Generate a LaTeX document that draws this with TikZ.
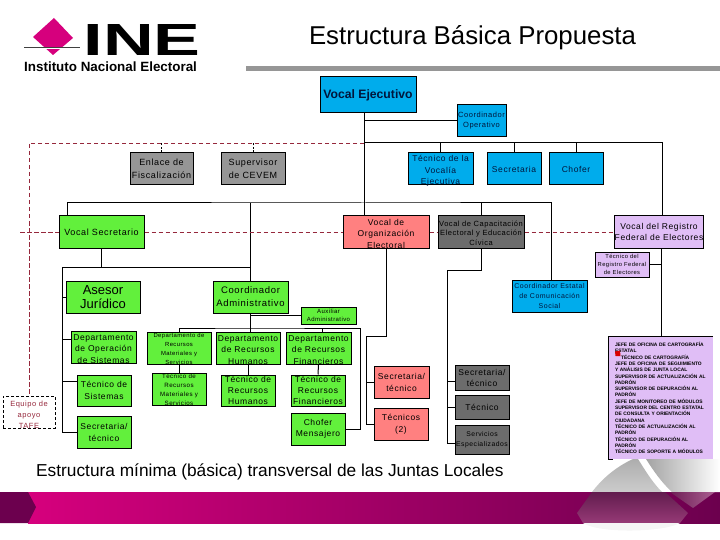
\documentclass[tikz,border=0pt]{standalone}
\usepackage{fontspec}
\usepackage{tikz}
\usetikzlibrary{positioning,arrows.meta}
\setmainfont{Liberation Sans}
\newfontfamily\boxf[LetterSpace=7]{Liberation Sans}
\definecolor{ineBlue}{RGB}{0,172,236}
\definecolor{ineInk}{RGB}{0,22,60}
\definecolor{ineGrey}{RGB}{150,150,150}
\definecolor{ineDark}{RGB}{108,108,108}
\definecolor{ineGreen}{RGB}{98,240,60}
\definecolor{ineRed}{RGB}{255,128,128}
\definecolor{inePurple}{RGB}{224,190,246}
\definecolor{ineDash}{RGB}{150,40,60}
\definecolor{ineMag}{RGB}{214,0,125}
\definecolor{bandDark}{RGB}{108,0,78}
\newcommand{\fs}[2]{\boxf\fontsize{#1}{#2}\selectfont}

\begin{document}
\begin{tikzpicture}[x=1pt,y=-1pt,
  sz/.style 2 args={minimum width=#1pt,minimum height=#2pt},
  bxBlue/.style={draw=black,fill=ineBlue,text=ineInk,line width=1pt,align=center,inner sep=0pt,font=\fs{8.5}{11}},
  bxGrey/.style={draw=black,fill=ineGrey,line width=1pt,align=center,inner sep=0pt,font=\fs{9}{12.5}},
  bxDark/.style={draw=black,fill=ineDark,line width=1pt,align=center,inner sep=0pt,font=\fs{8.5}{11}},
  bxGreen/.style={draw=black,fill=ineGreen,line width=1pt,align=center,inner sep=0pt,font=\fs{9}{12.5}},
  bxRed/.style={draw=black,fill=ineRed,line width=1pt,align=center,inner sep=0pt,font=\fs{8.5}{12}},
  bxPurple/.style={draw=black,fill=inePurple,line width=1pt,align=center,inner sep=0pt,font=\fs{8.5}{11}},
  full/.style={text height=32pt,text depth=0pt,font=\fs{8.5}{11.5}},
  ln/.style={draw=black,line width=1pt},
  lnT/.style={draw=black,line width=1.8pt},
  dsh/.style={draw=ineDash,line width=0.9pt,dash pattern=on 4.5pt off 2.5pt}]
\useasboundingbox (0,0) rectangle (720,540);

% band and swoosh
\shade[left color=ineMag,middle color=ineMag!80!black,right color=bandDark] (28,492) rectangle (720,523);
\fill[bandDark] (0,492) -- (28,492) -- (36,507) -- (28,523) -- (0,523) -- cycle;
\shade[top color=black!32,bottom color=black!20] (592,492) .. controls (605,475) and (620,465) .. (633,459) -- (638,459) .. controls (645,470) and (652,482) .. (662,492) -- cycle;
\shade[left color=black!36,right color=white] (646,459) .. controls (653,470) and (661,482) .. (672,492) -- (720,492) -- (720,459) -- cycle;
\shade[top color={rgb,255:red,98;green,28;blue,78},bottom color={rgb,255:red,150;green,58;blue,118}] (592,492) -- (577,513) -- (583,523) -- (680,523) -- (688,513) -- (665,492) -- cycle;
\shade[left color={rgb,255:red,110;green,30;blue,85},right color={rgb,255:red,170;green,95;blue,145}] (670,492) -- (693,508) -- (715,492) -- cycle;
\fill[black!4] (583,523) -- (680,523) .. controls (665,532) and (600,534) .. cycle;

% logo
\fill[ineMag] (54,18) -- (73,38) -- (53,55) -- (33,37) -- cycle;
\draw[white,line width=2pt] (24,48) -- (80,48);
\draw[black!75,line width=1pt] (24,48) -- (80,48);
\node[anchor=west,inner sep=0pt] (logoIne) at (83.5,40.5) {\resizebox{117pt}{31pt}{\textbf{INE}}};
\node[anchor=west,inner sep=0pt,font=\bfseries\fontsize{13.4}{15}\selectfont] (logoTxt) at (24,67) {Instituto Nacional Electoral};

\node[font=\fontsize{25.8}{30}\selectfont,inner sep=0pt] (title) at (472.5,38) {Estructura Básica Propuesta};
\fill[ineGrey] (246,66) rectangle (720,71);
\node[anchor=west,inner sep=0pt,font=\fontsize{17.3}{20}\selectfont] (foot) at (36,472) {Estructura mínima (básica) transversal de las Juntas Locales};

\node[bxBlue,sz={96}{36},font=\bfseries\fontsize{12.2}{14}\selectfont] (ejec) at (368,95) {Vocal Ejecutivo};
\node[bxBlue,sz={49}{32},font=\fs{7.5}{10}] (coOp) at (481.5,121) {Coordinador\\Operativo};
\node[bxBlue,sz={65}{32},full] (tecVE) at (440.5,169) {Técnico de la\\Vocalía\\Ejecutiva};
\node[bxBlue,sz={54}{32}] (secV) at (514,169) {Secretaria};
\node[bxBlue,sz={54}{32}] (chof) at (576,169) {Chofer};
\node[bxGrey,sz={63}{32}] (enl) at (161.5,169) {Enlace de\\Fiscalización};
\node[bxGrey,sz={64}{32}] (sup) at (253,169) {Supervisor\\de CEVEM};

\node[bxGreen,sz={85}{32}] (vsec) at (101.5,232) {Vocal Secretario};
\node[bxRed,sz={86}{32},full] (org) at (386,232) {Vocal de\\Organización\\Electoral};
\node[bxDark,sz={86}{32},full,font=\fs{7.5}{9.5},text height=29pt,text depth=3pt] (vcap) at (481,232) {Vocal de Capacitación\\Electoral y Educación\\Cívica};
\node[bxPurple,sz={86}{32}] (reg) at (659,232) {Vocal del Registro\\Federal de Electores};
\node[bxPurple,sz={54}{25},font=\fs{5.8}{8}] (tecR) at (622,264.5) {Técnico del\\Registro Federal\\de Electores};
\node[bxBlue,sz={75}{32},font=\fs{7}{10}] (cest) at (549.5,296) {Coordinador Estatal\\de Comunicación\\Social};

\node[bxGreen,sz={74}{32},font=\fontsize{13}{14.5}\selectfont] (ase) at (103,297) {Asesor\\Jurídico};
\node[bxGreen,sz={75}{32},font=\fs{9.5}{13}] (coAd) at (250.5,297) {Coordinador\\Administrativo};
\node[bxGreen,sz={55}{17},font=\fs{6}{8}] (aux) at (328.5,315.5) {Auxiliar\\Administrativo};

\node[bxGreen,sz={65}{32},full] (depO) at (103.5,347) {Departamento\\de Operación\\de Sistemas};
\node[bxGreen,sz={64}{32},full,font=\fs{5.9}{8.8}] (depM) at (179,348) {Departamento de\\Recursos\\Materiales y\\Servicios};
\node[bxGreen,sz={64}{32},full] (depH) at (248,348) {Departamento\\de Recursos\\Humanos};
\node[bxGreen,sz={65}{32},full] (depF) at (318.5,348) {Departamento\\de Recursos\\Financieros};

\node[bxGreen,sz={54}{31},font=\fs{8.5}{12.5}] (tecS) at (104,390.5) {Técnico de\\Sistemas};
\node[bxGreen,sz={54}{32},full,font=\fs{6.2}{8.8}] (tecM) at (179,389) {Técnico de\\Recursos\\Materiales y\\Servicios};
\node[bxGreen,sz={54}{31},font=\fs{8.5}{11}] (tecH) at (248,390.5) {Técnico de\\Recursos\\Humanos};
\node[bxGreen,sz={54}{31},font=\fs{8.5}{11}] (tecF) at (318,390.5) {Técnico de\\Recursos\\Financieros};
\node[bxGreen,sz={54}{32},font=\fs{8.5}{11.5}] (chM) at (318,429) {Chofer\\Mensajero};
\node[bxGreen,sz={54}{32},font=\fs{8.5}{12}] (secT) at (104,432) {Secretaria/\\técnico};

\node[draw=black,line width=1pt,dash pattern=on 3pt off 2pt,fill=white,align=center,inner sep=0pt,sz={52}{32},text=ineDash,font=\fs{7.5}{11},text height=32pt,text depth=0pt] (equipo) at (29,412) {Equipo de\\apoyo\\TAFE};

\node[bxRed,sz={55}{32}] (secO) at (401.5,382) {Secretaria/\\técnico};
\node[bxRed,sz={54}{32}] (tecs) at (401,424) {Técnicos\\(2)};
\node[bxDark,sz={54}{25}] (secG) at (482,377.5) {Secretaria/\\técnico};
\node[bxDark,sz={54}{24}] (tecG) at (482,407) {Técnico};
\node[bxDark,sz={54}{29},font=\fs{6.8}{10}] (serv) at (482,439.5) {Servicios\\Especializados};

\node[fill=inePurple,sz={104}{122},text width=92pt,align=left,inner sep=0pt,font=\bfseries\fontsize{4.9}{6.3}\selectfont] (list) at (661,398)
  {JEFE DE OFICINA DE CARTOGRAFÍA\\ ESTATAL\\ \hspace*{6pt}TÉCNICO DE CARTOGRAFÍA\\
   JEFE DE OFICINA DE SEGUIMIENTO\\ Y ANÁLISIS DE JUNTA LOCAL\\
   SUPERVISOR DE ACTUALIZACIÓN AL\\ PADRÓN\\ SUPERVISOR DE DEPURACIÓN AL\\ PADRÓN\\
   JEFE DE MONITOREO DE MÓDULOS\\ SUPERVISOR DEL CENTRO ESTATAL\\ DE CONSULTA Y ORIENTACIÓN\\ CIUDADANA\\
   TÉCNICO DE ACTUALIZACIÓN AL\\ PADRÓN\\ TÉCNICO DE DEPURACIÓN AL\\ PADRÓN\\ TÉCNICO DE SOPORTE A MÓDULOS};
\draw[ln] (list.north east) -- (list.north west) -- (list.south west) -- ([xshift=4pt]list.south west);
\fill[red!85!black] (615,351.5) -- (620,350.5) -- (620.5,356) -- (615.5,356) -- cycle;

\coordinate (jA) at (364,143);
\coordinate (jB) at (364,203);
\coordinate (jC) at (62,267);
\coordinate (jD) at (250,328);
\coordinate (jE) at (360,328);
\coordinate (jF) at (366,336);
\coordinate (jG) at (447,270);
\coordinate (dL) at (20,232);

\draw[ln] (jA |- ejec.south) -- (jA |- org.north);
\draw[ln] (jA |- coOp.west) -- (coOp.west);
\draw[ln] (jA) -| ([xshift=3pt]reg.north);
\draw[ln] (tecVE.north) -- (tecVE.north |- jA);
\draw[ln] (secV.north) -- (secV.north |- jA);
\draw[ln] (chof.north) -- (chof.north |- jA);
\draw[ln] ([xshift=-34.5pt]vsec.north) |- (jB) -| ([xshift=1.5pt]cest.north);
\draw[ln] (coAd.north) -- (coAd.north |- jB);
\draw[ln] (vcap.north) -- (vcap.north |- jB);

\draw[lnT] (vsec.south) -- (vsec.south |- jC);
\draw[ln] (coAd.north |- jC) -- (jC) |- (secT.west);
\draw[ln] (jC |- ase.west) -- (ase.west);
\draw[ln] (jC |- depO.west) ++(0,-8) -- ([yshift=8pt]depO.west);
\draw[ln] (jC |- tecS.west) ++(0,-9.5) -- ([yshift=9.5pt]tecS.west);

\draw[ln] (coAd.south) -- (coAd.south |- depH.north);
\draw[ln] (depM.north) |- (jD) -- (jE) |- (chM.east);
\draw[ln] ([xshift=3.5pt]depF.north) -- ([xshift=3.5pt]depF.north |- jD);
\draw[ln] (aux.west) -- (aux.west -| jD);
\draw[ln] (depM) -- (tecM);
\draw[ln] (depH) -- (tecH);
\draw[ln] (depF) -- (tecF);

\draw[ln] (org.south) |- (jF) |- (tecs.west);
\draw[ln] (jF |- secO.west) -- (secO.west);
\draw[ln] (vcap.south) |- (jG) |- ([yshift=-3.5pt]serv.west);
\draw[ln] (jG |- secG.west) ++(0,3.5) -- ([yshift=-3.5pt]secG.west);
\draw[ln] (jG |- tecG.west) -- (tecG.west);
\draw[ln] (list.north |- reg.south) -- (list.north);
\draw[ln] (tecR.east) -- (tecR.east -| list.north);

\draw[dsh] (jA) -| (equipo.north);
\draw[dsh] (dL) -- (vsec.west);
\draw[dsh] (vsec.east) -- (org.west);
\draw[dsh] (org.east) -- (vcap.west);
\draw[dsh] (vcap.east) -- (reg.west);
\draw[ln,dash pattern=on 2pt off 1.5pt] (enl.north) -- (enl.north |- jA);
\draw[ln,dash pattern=on 2pt off 1.5pt] (sup.north) -- (sup.north |- jA);
\end{tikzpicture}
\end{document}
